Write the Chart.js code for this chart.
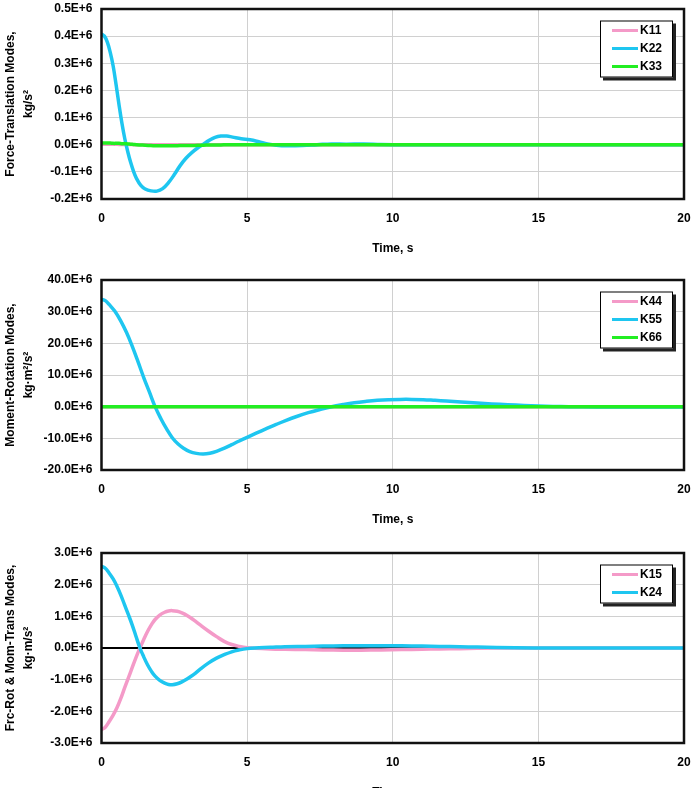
<!DOCTYPE html>
<html><head><meta charset="utf-8">
<script src="https://cdn.jsdelivr.net/npm/chart.js@4.4.0/dist/chart.umd.min.js"></script>
<style>
html,body{margin:0;padding:0;background:#fff;overflow:hidden;width:695px;height:788px;}
.panel{position:absolute;left:0;width:695px;height:270px;}
</style></head><body>
<div class="panel" style="top:0"><canvas id="c1" width="695" height="270"></canvas></div>
<div class="panel" style="top:271px"><canvas id="c2" width="695" height="270"></canvas></div>
<div class="panel" style="top:544px"><canvas id="c3" width="695" height="270"></canvas></div>
<script>
// ---------- DATA (values in units of 1E+6) ----------
const xTicks = [0, 5, 10, 15, 20];
const xTitle = 'Time, s';

// Panel 1: Force-Translation Modes
const p1Title = ['Force-Translation Modes,', 'kg/s\u00B2'];
const p1YTicks = [-0.2, -0.1, 0.0, 0.1, 0.2, 0.3, 0.4, 0.5];
const p1Time = [0,0.1,0.2,0.3,0.4,0.5,0.6,0.7,0.8,0.9,1.0,1.1,1.2,1.35,1.5,1.7,1.9,2.1,2.3,2.5,2.7,2.9,3.1,3.3,3.5,3.7,3.9,4.1,4.3,4.5,4.8,5.1,5.4,5.7,6.0,6.4,6.9,7.4,7.9,8.4,9.0,9.6,10.5,12,14,16,18,20];
const k11 = [0.002,0.002,0.002,0.002,0.002,0.002,0.001,0.001,0.001,0.001,0.001,0,0,0,0,0,0,0,0,0,0,0,0,0,0,0,0,0,0,0,0,0,0,0,0,0,0,0,0,0,0,0,0,0,0,0,0,0];
const k22 = [0.408,0.400,0.378,0.340,0.290,0.222,0.148,0.080,0.022,-0.025,-0.065,-0.098,-0.124,-0.150,-0.163,-0.170,-0.171,-0.162,-0.140,-0.110,-0.077,-0.050,-0.029,-0.012,0.002,0.016,0.027,0.032,0.032,0.028,0.022,0.018,0.011,0.003,-0.002,-0.004,-0.003,0.000,0.003,0.002,0.003,0.001,0,0,0,0,0,0];
const k33 = [0.006,0.006,0.006,0.006,0.005,0.005,0.005,0.004,0.004,0.003,0.002,0.001,0.000,-0.001,-0.002,-0.003,-0.004,-0.004,-0.004,-0.004,-0.003,-0.003,-0.003,-0.002,-0.002,-0.001,-0.001,-0.001,0,0,0,0,0,0,0,0,0,0,0,0,0,0,0,0,0,0,0,0];

// Panel 2: Moment-Rotation Modes
const p2Title = ['Moment-Rotation Modes,', 'kg\u00B7m\u00B2/s\u00B2'];
const p2YTicks = [-20, -10, 0, 10, 20, 30, 40];
const p2Time = [0,0.13,0.26,0.46,0.66,0.86,1.05,1.25,1.45,1.65,1.84,2.04,2.24,2.43,2.63,2.83,3.03,3.26,3.49,3.72,3.95,4.2,4.47,4.73,5.0,5.33,5.66,6.0,6.32,6.7,7.1,7.5,7.9,8.3,8.68,9.1,9.47,9.85,10.26,10.65,11.05,11.45,11.84,12.35,12.9,13.4,13.95,14.5,15.0,15.5,16.05,17,18.2,20];
const k44 = [0,0,0,0,0,0,0,0,0,0,0,0,0,0,0,0,0,0,0,0,0,0,0,0,0,0,0,0,0,0,0,0,0,0,0,0,0,0,0,0,0,0,0,0,0,0,0,0,0,0,0,0,0,0];
const k55 = [33.9,33.5,32.3,30.1,27.1,23.4,19.2,14.3,9.2,4.5,0,-3.8,-7.1,-9.8,-11.8,-13.2,-14.2,-14.75,-14.95,-14.7,-14.1,-13.2,-12.0,-10.85,-9.7,-8.3,-6.95,-5.6,-4.4,-3.1,-1.9,-0.9,0,0.7,1.26,1.7,2.0,2.2,2.3,2.3,2.2,2.0,1.8,1.5,1.16,0.88,0.63,0.4,0.21,0.08,0,-0.08,-0.1,-0.1];
const k66 = [0,0,0,0,0,0,0,0,0,0,0,0,0,0,0,0,0,0,0,0,0,0,0,0,0,0,0,0,0,0,0,0,0,0,0,0,0,0,0,0,0,0,0,0,0,0,0,0,0,0,0,0,0,0];

// Panel 3: Frc-Rot & Mom-Trans Modes
const p3Title = ['Frc-Rot & Mom-Trans Modes,', 'kg\u00B7m/s\u00B2'];
const p3YTicks = [-3, -2, -1, 0, 1, 2, 3];
const p3Time = [0,0.13,0.26,0.4,0.53,0.66,0.79,0.92,1.05,1.18,1.32,1.45,1.58,1.71,1.84,2.0,2.17,2.3,2.43,2.6,2.76,2.95,3.16,3.4,3.68,3.95,4.21,4.47,4.74,5.0,5.26,5.8,6.3,7.0,7.6,8.3,8.9,9.6,10.3,11.0,11.6,12.3,12.9,14.2,15.5,17,20];
const k15 = [-2.58,-2.50,-2.33,-2.12,-1.89,-1.60,-1.27,-0.95,-0.63,-0.31,0,0.27,0.52,0.73,0.90,1.04,1.13,1.17,1.18,1.16,1.11,1.02,0.89,0.72,0.53,0.36,0.21,0.11,0.05,0.01,-0.01,-0.03,-0.04,-0.05,-0.06,-0.07,-0.07,-0.06,-0.05,-0.04,-0.03,-0.02,-0.01,0,0,0,0];
const k24 = [2.58,2.52,2.37,2.18,1.95,1.68,1.37,1.06,0.74,0.38,0,-0.28,-0.53,-0.73,-0.89,-1.02,-1.11,-1.15,-1.16,-1.13,-1.07,-0.97,-0.84,-0.66,-0.47,-0.32,-0.21,-0.12,-0.06,-0.02,0,0.02,0.04,0.05,0.06,0.07,0.07,0.07,0.07,0.06,0.05,0.04,0.03,0.01,0,0,0];

// ---------- STYLE ----------
const PINK = '#F49AC8', BLUE = '#1EC6F0', GREEN = '#22EE22';
const FONT = 'Arial, "Liberation Sans", Helvetica, sans-serif';

const framePlugin = {
  id: 'frameLegend',
  afterDatasetsDraw(chart) {
    const {ctx, chartArea: a} = chart;
    ctx.save();
    ctx.strokeStyle = '#111';
    ctx.lineWidth = 2.5;
    ctx.strokeRect(a.left, a.top, a.right - a.left, a.bottom - a.top);
    ctx.restore();
  },
  afterDraw(chart) {
    const {ctx, chartArea: a} = chart;
    const ds = chart.data.datasets;
    const w = 73, h = 18 * (ds.length - 1) + 21;
    const bx = a.right - 11 - w, by = a.top + 11.5;
    ctx.save();
    ctx.fillStyle = '#222';
    ctx.fillRect(bx + 3, by + 3, w, h);
    ctx.fillStyle = '#fff';
    ctx.fillRect(bx, by, w, h);
    ctx.strokeStyle = '#000';
    ctx.lineWidth = 1;
    ctx.strokeRect(bx + 0.5, by + 0.5, w - 1, h - 1);
    ctx.font = 'bold 12px ' + FONT;
    ctx.textBaseline = 'middle';
    ctx.textAlign = 'left';
    ds.forEach((d, i) => {
      const y = by + 10 + 18 * i;
      ctx.strokeStyle = d.borderColor;
      ctx.lineWidth = 3;
      ctx.beginPath();
      ctx.moveTo(bx + 12, y);
      ctx.lineTo(bx + 38, y);
      ctx.stroke();
      ctx.fillStyle = '#000';
      ctx.fillText(d.label, bx + 40, y + 0.5);
    });
    ctx.restore();
  }
};

function makePanel(id, title, yTicks, time, series) {
  const n = series.length;
  const datasets = series.map((s, i) => ({
    label: s.label,
    data: time.map((t, j) => ({x: t, y: s.values[j]})),
    borderColor: s.color,
    backgroundColor: s.color,
    borderWidth: 3.5,
    pointRadius: 0,
    fill: false,
    tension: 0.4,
    order: n - i
  }));
  new Chart(document.getElementById(id), {
    type: 'line',
    data: {datasets},
    plugins: [framePlugin],
    options: {
      responsive: false,
      animation: false,
      devicePixelRatio: 1,
      layout: {padding: {left: 0, top: 9, right: 11, bottom: 0}},
      plugins: {legend: {display: false}, tooltip: {enabled: false}},
      scales: {
        x: {
          type: 'linear',
          min: xTicks[0], max: xTicks[xTicks.length - 1],
          afterBuildTicks: (s) => { s.ticks = xTicks.map(v => ({value: v})); },
          afterFit: (s) => { s.height = 71; s.paddingLeft = 0; s.paddingRight = 0; },
          border: {display: false},
          grid: {color: '#d0d0d0', lineWidth: 1, drawTicks: false},
          ticks: {color: '#000', padding: 12, font: {family: FONT, size: 12, weight: 'bold'}, maxRotation: 0,
                  callback: (v) => String(v)},
          title: {display: true, text: xTitle, color: '#000', padding: {top: 0, bottom: 14},
                  font: {family: FONT, size: 12, weight: 'bold'}}
        },
        y: {
          type: 'linear',
          min: yTicks[0], max: yTicks[yTicks.length - 1],
          afterBuildTicks: (s) => { s.ticks = yTicks.map(v => ({value: v})); },
          afterFit: (s) => { s.width = 101.5; s.paddingTop = 0; s.paddingBottom = 0; },
          border: {display: false},
          grid: {
            drawTicks: false,
            color: (c) => (c.tick && Math.abs(c.tick.value) < 1e-9) ? '#000' : '#d0d0d0',
            lineWidth: (c) => (c.tick && Math.abs(c.tick.value) < 1e-9) ? 2 : 1
          },
          ticks: {color: '#000', padding: 9, font: {family: FONT, size: 12, weight: 'bold'},
                  callback: (v) => (Math.abs(v) < 1e-9 ? 0 : v).toFixed(1) + 'E+6'},
          title: {display: true, text: title, color: '#000', padding: {top: 1.5, bottom: 0},
                  font: {family: FONT, size: 12, weight: 'bold', lineHeight: 1.5}}
        }
      }
    }
  });
}

makePanel('c1', p1Title, p1YTicks, p1Time, [
  {label: 'K11', values: k11, color: PINK},
  {label: 'K22', values: k22, color: BLUE},
  {label: 'K33', values: k33, color: GREEN}
]);
makePanel('c2', p2Title, p2YTicks, p2Time, [
  {label: 'K44', values: k44, color: PINK},
  {label: 'K55', values: k55, color: BLUE},
  {label: 'K66', values: k66, color: GREEN}
]);
makePanel('c3', p3Title, p3YTicks, p3Time, [
  {label: 'K15', values: k15, color: PINK},
  {label: 'K24', values: k24, color: BLUE}
]);
</script>
</body></html>
